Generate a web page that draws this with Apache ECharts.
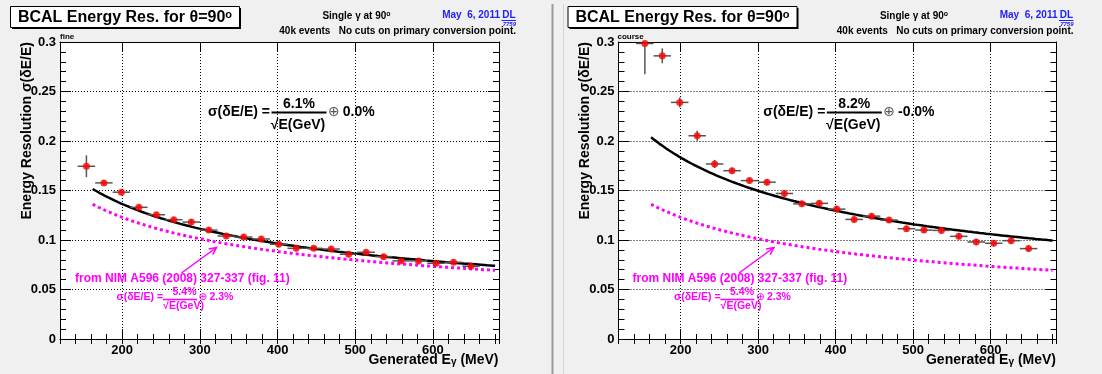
<!DOCTYPE html>
<html>
<head>
<meta charset="utf-8">
<script src="https://cdn.jsdelivr.net/npm/echarts@6/dist/echarts.min.js"></script>
<style>
  html, body { margin: 0; padding: 0; background: #f0f0f0; }
  #chart { width: 1102px; height: 374px; }
</style>
</head>
<body>
<div id="chart"></div>
<script>
// Bin centres of the generated photon energy (MeV), 22.5 MeV wide bins
const energies = [154, 176.5, 199, 221.5, 244, 266.5, 289, 311.5, 334, 356.5, 379, 401.5,
                  424, 446.5, 469, 491.5, 514, 536.5, 559, 581.5, 604, 626.5, 649];
const binHalfWidth = 11.25;

// Fine binning: measured resolution and its uncertainty
const fineValues = [0.1745, 0.1577, 0.1483, 0.1330, 0.1255, 0.1205, 0.1181, 0.1100, 0.1040, 0.1030,
                    0.1010, 0.0957, 0.0916, 0.0916, 0.0909, 0.0856, 0.0876, 0.0832, 0.0789, 0.0789,
                    0.0765, 0.0775, 0.0735];
const fineErrors = [0.011, 0.0025, 0.0025, 0.0025, 0.0025, 0.0025, 0.0025, 0.0025, 0.0025, 0.0025,
                    0.0025, 0.0025, 0.0025, 0.0025, 0.0025, 0.0025, 0.0025, 0.0025, 0.0025, 0.0025,
                    0.0025, 0.0025, 0.0025];

// Coarse binning
const courseValues = [0.2985, 0.2860, 0.2390, 0.2053, 0.1768, 0.1700, 0.1600, 0.1584, 0.1470, 0.1365,
                      0.1370, 0.1312, 0.1208, 0.1241, 0.1201, 0.1114, 0.1100, 0.1097, 0.1037, 0.0980,
                      0.0967, 0.0993, 0.0913];
const courseErrors = [0.031, 0.0075, 0.005, 0.005, 0.004, 0.003, 0.003, 0.003, 0.003, 0.003,
                      0.003, 0.003, 0.003, 0.003, 0.003, 0.003, 0.003, 0.003, 0.003, 0.003,
                      0.003, 0.003, 0.003];

// Fit results  sigma = a/sqrt(E[GeV]) (+) b  and the published NIM A596 parametrisation
const fineFit = { stochastic: 0.061, constant: 0.0 };
const courseFit = { stochastic: 0.082, constant: -0.0 };
const nimParam = { stochastic: 0.054, constant: 0.023 };
const fitRange = [162, 680];

// Axis ranges
const energyRange = [120, 685];
const resolutionRange = [0, 0.3];

const FONT = '"Liberation Sans", Arial, Helvetica, sans-serif';
const SYMFONT = '"DejaVu Sans", "Liberation Sans", sans-serif';
const MAGENTA = '#ff00ff';

function resolution(p, e) {
  const a = p.stochastic / Math.sqrt(e / 1000);
  return Math.sqrt(a * a + p.constant * p.constant);
}
function curve(p) {
  const pts = [];
  for (let e = fitRange[0]; e <= fitRange[1]; e += 2) pts.push([e, resolution(p, e)]);
  return pts;
}

const chart = echarts.init(document.getElementById('chart'), null, { renderer: 'canvas' });

const grids = [
  { left: 60, top: 42, width: 439, height: 297 },
  { left: 618.5, top: 42, width: 438, height: 297 }
];

function xAxes(g) {
  const base = { type: 'value', gridIndex: g, min: energyRange[0], max: energyRange[1],
                 splitLine: { show: false }, axisLabel: { show: false } };
  return [
    Object.assign({}, base, {
      position: 'bottom',
      axisLine: { show: true, onZero: false, lineStyle: { color: '#000', width: 1 } },
      axisTick: { show: true, inside: true, length: 10, lineStyle: { color: '#000' } },
      axisLabel: { show: true, showMinLabel: false, showMaxLabel: false, color: '#000',
                   fontFamily: FONT, fontWeight: 'bold', fontSize: 13, margin: 5 },
      splitLine: { show: true, lineStyle: { color: '#000', type: [1, 2], width: 1 } }
    }),
    Object.assign({}, base, {
      position: 'bottom', interval: 20,
      axisLine: { show: false },
      axisTick: { show: true, inside: true, length: 5, lineStyle: { color: '#000' } }
    }),
    Object.assign({}, base, {
      position: 'top',
      axisLine: { show: true, onZero: false, lineStyle: { color: '#000', width: 1 } },
      axisTick: { show: true, inside: true, length: 10, lineStyle: { color: '#000' } }
    }),
    Object.assign({}, base, {
      position: 'top', interval: 20,
      axisLine: { show: false },
      axisTick: { show: true, inside: true, length: 5, lineStyle: { color: '#000' } }
    })
  ];
}

function yAxes(g) {
  const base = { type: 'value', gridIndex: g, min: resolutionRange[0], max: resolutionRange[1],
                 splitLine: { show: false }, axisLabel: { show: false } };
  return [
    Object.assign({}, base, {
      position: 'left', interval: 0.05,
      axisLine: { show: true, onZero: false, lineStyle: { color: '#000', width: 1 } },
      axisTick: { show: true, inside: true, length: 11, lineStyle: { color: '#000' } },
      axisLabel: { show: true, color: '#000', fontFamily: FONT, fontWeight: 'bold', fontSize: 13, margin: 4 },
      splitLine: { show: true, lineStyle: { color: '#000', type: [1, 2], width: 1 } }
    }),
    Object.assign({}, base, {
      position: 'left', interval: 0.01,
      axisLine: { show: false },
      axisTick: { show: true, inside: true, length: 6, lineStyle: { color: '#000' } }
    }),
    Object.assign({}, base, {
      position: 'right', interval: 0.05,
      axisLine: { show: true, onZero: false, lineStyle: { color: '#000', width: 1 } },
      axisTick: { show: true, inside: true, length: 11, lineStyle: { color: '#000' } }
    }),
    Object.assign({}, base, {
      position: 'right', interval: 0.01,
      axisLine: { show: false },
      axisTick: { show: true, inside: true, length: 6, lineStyle: { color: '#000' } }
    })
  ];
}

function errorBarSeries(g, values, errors) {
  return {
    type: 'custom', xAxisIndex: 4 * g, yAxisIndex: 4 * g, clip: true, z: 3,
    data: energies.map((e, i) => [e, values[i], errors[i]]),
    renderItem: function (params, api) {
      const x = api.value(0), y = api.value(1), dy = api.value(2);
      const l = api.coord([x - binHalfWidth, y]);
      const r = api.coord([x + binHalfWidth, y]);
      const t = api.coord([x, y + dy]);
      const b = api.coord([x, y - dy]);
      const style = { stroke: '#555', lineWidth: 1.5 };
      return {
        type: 'group',
        children: [
          { type: 'line', shape: { x1: l[0], y1: l[1], x2: r[0], y2: r[1] }, style: style },
          { type: 'line', shape: { x1: t[0], y1: t[1], x2: b[0], y2: b[1] }, style: style }
        ]
      };
    }
  };
}

function panelSeries(g, values, errors, fit) {
  return [
    {
      type: 'line', xAxisIndex: 4 * g, yAxisIndex: 4 * g, data: curve(nimParam),
      showSymbol: false, symbol: 'none', z: 2, silent: true,
      lineStyle: { color: MAGENTA, width: 3, type: [3, 3] }
    },
    {
      type: 'line', xAxisIndex: 4 * g, yAxisIndex: 4 * g, data: curve(fit),
      showSymbol: false, symbol: 'none', z: 2, silent: true,
      lineStyle: { color: '#000', width: 2.5 }
    },
    errorBarSeries(g, values, errors),
    {
      type: 'scatter', xAxisIndex: 4 * g, yAxisIndex: 4 * g, z: 4,
      data: energies.map((e, i) => [e, values[i]]),
      symbol: 'circle', symbolSize: 7, itemStyle: { color: '#ff0000' }
    }
  ];
}

function txt(x, y, text, opt) {
  opt = opt || {};
  return {
    type: 'text', x: x, y: y, rotation: opt.rotation || 0, z: 10,
    style: {
      text: text, fill: opt.color || '#000',
      font: (opt.italic ? 'italic ' : '') + (opt.weight || 'bold') + ' ' + (opt.size || 13) + 'px ' + (opt.family || FONT),
      align: opt.align || 'left', verticalAlign: opt.valign || 'middle',
      rich: opt.rich
    }
  };
}

function fraction(x0, yMid, yNum, yBar, yDen, parts, geom, opt) {
  const color = opt.color, size = opt.size;
  return [
    txt(x0, yMid, parts.lhs, { color: color, size: size }),
    txt(x0 + geom.num, yNum, parts.num, { color: color, size: size, align: 'center' }),
    { type: 'line', z: 10, shape: { x1: x0 + geom.bar[0], y1: yBar, x2: x0 + geom.bar[1], y2: yBar },
      style: { stroke: color, lineWidth: opt.barWidth } },
    txt(x0 + geom.den, yDen, parts.den, { color: color, size: size, align: 'center' }),
    txt(x0 + geom.rhs, yMid, '⊕', { color: opt.opColor || color, size: size, weight: 'normal', family: SYMFONT }),
    txt(x0 + geom.rhs + size * 1.05, yMid, parts.rhs, { color: color, size: size })
  ];
}

function panelGraphics(dx, tag, fitText, fitX) {
  const els = [];
  // title box with shadow
  els.push({ type: 'rect', z: 9, shape: { x: dx + 12, y: 8, width: 229, height: 21 }, style: { fill: '#000' } });
  els.push({ type: 'rect', z: 9, shape: { x: dx + 10.5, y: 6.5, width: 229, height: 21 },
             style: { fill: '#fff', stroke: '#000', lineWidth: 1 } });
  els.push(txt(dx + 125, 17.5, 'BCAL Energy Res. for θ=90{sup|o}', {
    size: 16, align: 'center',
    rich: { sup: { fontSize: 11, fontWeight: 'bold', fontFamily: FONT, verticalAlign: 'top', lineHeight: 10 } }
  }));
  // run description
  els.push(txt(dx + 356.5, 16, 'Single γ at 90{sup|o}', {
    size: 10, align: 'center',
    rich: { sup: { fontSize: 7, fontWeight: 'bold', fontFamily: FONT, verticalAlign: 'top', lineHeight: 8 } }
  }));
  els.push(txt(dx + 516, 31, '40k events   No cuts on primary conversion point.', { size: 10, align: 'right' }));
  // date stamp
  els.push(txt(dx + 500, 15, 'May  6, 2011', { size: 10, align: 'right', color: '#2020ff' }));
  els.push(txt(dx + 515.5, 15, 'DL', { size: 10, align: 'right', color: '#2020ff' }));
  els.push({ type: 'line', z: 10, shape: { x1: dx + 501.5, y1: 20.5, x2: dx + 516, y2: 20.5 },
             style: { stroke: '#2020ff', lineWidth: 1 } });
  els.push(txt(dx + 516, 24, '7759', { size: 6, align: 'right', color: '#2020ff', italic: true }));
  // binning tag
  els.push(txt(dx + 60, 36.5, tag, { size: 8 }));
  // axis titles
  els.push(txt(dx + 27.5, 42, 'Energy Resolution σ(δE/E)', { size: 14, align: 'right', rotation: Math.PI / 2 }));
  els.push(txt(dx + 498.5, 360, 'Generated E{sub|γ} (MeV)', {
    size: 14, align: 'right',
    rich: { sub: { fontSize: 10, fontWeight: 'bold', fontFamily: FONT, verticalAlign: 'bottom', lineHeight: 9 } }
  }));
  // fitted parametrisation
  els.push.apply(els, fraction(fitX, 112, 104.5, 112.5, 125,
    { lhs: 'σ(δE/E) =', num: fitText[0], den: '√E(GeV)', rhs: fitText[1] },
    { num: 91, den: 90, bar: [63.5, 118.5], rhs: 120 },
    { color: '#000', size: 14, barWidth: 2, opColor: '#555' }));
  // reference parametrisation
  els.push(txt(dx + 75, 278.5, 'from NIM A596 (2008) 327-337 (fig. 11)', { size: 12, color: MAGENTA }));
  els.push.apply(els, fraction(dx + 116.5, 297.3, 292.5, 299.5, 306.5,
    { lhs: 'σ(δE/E) =', num: '5.4%', den: '√E(GeV)', rhs: '2.3%' },
    { num: 68, den: 67, bar: [46.5, 80.5], rhs: 82 },
    { color: MAGENTA, size: 10.5, barWidth: 1.5 }));
  // arrow pointing at the reference curve
  const tail = [dx + 181.5, 273], tip = [dx + 216.5, 247.5];
  const ang = Math.atan2(tip[1] - tail[1], tip[0] - tail[0]);
  const hl = 8;
  els.push({ type: 'polyline', z: 10, shape: { points: [tail, tip] }, style: { stroke: MAGENTA, lineWidth: 1.5 } });
  els.push({ type: 'polyline', z: 10, shape: { points: [
      [tip[0] - hl * Math.cos(ang - 0.45), tip[1] - hl * Math.sin(ang - 0.45)], tip,
      [tip[0] - hl * Math.cos(ang + 0.45), tip[1] - hl * Math.sin(ang + 0.45)]] },
    style: { stroke: MAGENTA, lineWidth: 1.5, fill: null } });
  return els;
}

const graphics = [
  // pad separators
  { type: 'line', z: 1, shape: { x1: 552.5, y1: 4, x2: 552.5, y2: 374 }, style: { stroke: '#9a9a9a', lineWidth: 2 } },
  { type: 'line', z: 1, shape: { x1: 563.5, y1: 4, x2: 563.5, y2: 374 }, style: { stroke: '#d4d4d4', lineWidth: 1 } },
  // frame backgrounds
  { type: 'rect', z: -1, shape: { x: 60, y: 42, width: 439, height: 297 }, style: { fill: '#fff' } },
  { type: 'rect', z: -1, shape: { x: 618.5, y: 42, width: 438, height: 297 }, style: { fill: '#fff' } }
].concat(
  panelGraphics(0, 'fine', ['6.1%', '0.0%'], 208),
  panelGraphics(557.5, 'course', ['8.2%', '-0.0%'], 763.3)
);

chart.setOption({
  animation: false,
  backgroundColor: '#f0f0f0',
  grid: grids,
  xAxis: xAxes(0).concat(xAxes(1)),
  yAxis: yAxes(0).concat(yAxes(1)),
  series: panelSeries(0, fineValues, fineErrors, fineFit)
    .concat(panelSeries(1, courseValues, courseErrors, courseFit)),
  graphic: graphics
});
</script>
</body>
</html>
